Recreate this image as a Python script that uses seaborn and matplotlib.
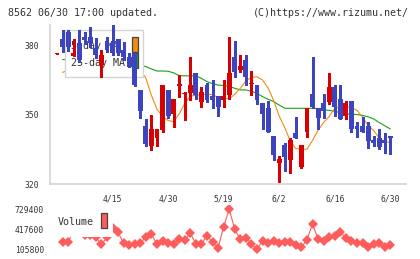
import numpy as np
import pandas as pd
import matplotlib
matplotlib.use("Agg")
import matplotlib.pyplot as plt
from matplotlib.patches import Rectangle
import seaborn as sns

# daily candles, 61 sessions ending 6/30
opens = [376.6, 383.0, 386.2, 375.8, 381.2, 383.8, 383.8, 379.0, 371.7, 382.2,
         381.2, 383.0, 378.3, 375.1, 376.8, 360.9, 345.2, 336.7, 339.9, 343.5,
         360.9, 350.4, 362.8, 359.0, 359.4, 368.1, 355.8, 363.0, 358.4, 358.4,
         356.5, 358.7, 375.1, 369.6, 373.9, 363.6, 363.0, 355.1, 353.2, 340.9,
         329.0, 337.0, 330.4, 342.3, 327.5, 342.8, 359.1, 352.9, 355.1, 355.8,
         362.0, 357.0, 349.7, 356.1, 345.2, 345.2, 345.2, 339.1, 339.9, 339.1,
         340.9]
highs = [377.0, 387.0, 387.0, 383.0, 387.0, 386.0, 388.4, 383.3, 378.3, 384.1,
         389.1, 383.0, 381.9, 376.8, 376.8, 360.9, 348.3, 350.0, 343.9, 363.0,
         360.9, 357.0, 367.4, 360.1, 375.4, 368.1, 362.3, 363.8, 365.2, 358.4,
         365.2, 384.1, 382.3, 376.1, 376.1, 369.1, 363.0, 355.1, 356.1, 340.9,
         332.2, 337.7, 339.9, 349.3, 337.0, 352.9, 375.4, 352.9, 359.1, 368.4,
         363.0, 363.0, 356.1, 356.1, 347.1, 349.3, 347.1, 340.9, 343.9, 342.3,
         340.9]
lows = [376.5, 377.5, 377.8, 375.8, 373.2, 381.0, 379.7, 374.6, 366.7, 377.5,
        376.1, 376.1, 374.0, 371.0, 362.8, 348.8, 336.7, 334.8, 336.7, 342.8,
        348.6, 344.9, 358.0, 347.8, 356.5, 357.0, 353.6, 355.8, 352.9, 349.7,
        353.6, 357.0, 366.7, 368.8, 363.0, 358.7, 354.8, 343.8, 342.8, 330.4,
        320.7, 325.8, 324.9, 339.9, 326.8, 340.6, 352.9, 343.8, 348.8, 354.8,
        349.7, 348.1, 348.1, 342.8, 340.6, 342.8, 335.8, 336.7, 335.1, 333.6,
        332.9]
closes = [376.8, 379.7, 379.7, 377.0, 373.9, 382.6, 381.2, 376.1, 376.1, 378.3,
          376.8, 376.8, 375.1, 371.0, 363.0, 351.9, 337.4, 343.9, 343.9, 363.0,
          349.7, 357.0, 363.1, 359.4, 363.0, 358.7, 359.9, 356.5, 356.5, 353.6,
          358.4, 368.4, 368.8, 371.4, 366.7, 363.9, 356.5, 350.4, 342.8, 332.6,
          330.9, 331.9, 339.1, 339.9, 337.0, 352.9, 353.6, 348.8, 351.9, 362.0,
          353.6, 348.1, 355.1, 343.8, 343.8, 342.8, 338.8, 337.7, 335.9, 337.7,
          339.9]

ma5 = [np.nan, 368.5, 369.5, 371.5, 374.0, 377.5, 379.0, 379.0, 379.5, 378.5,
       378.0, 378.0, 377.0, 375.5, 372.5, 369.5, 366.0, 358.5, 352.5, 349.3,
       347.6, 347.1, 350.5, 355.0, 358.2, 358.6, 358.8, 359.0, 358.8, 357.6,
       357.2, 357.0, 359.0, 361.6, 364.8, 366.3, 366.6, 365.2, 361.7, 356.3,
       349.5, 344.5, 338.6, 335.4, 335.1, 335.1, 339.0, 343.3, 346.8, 349.3,
       353.0, 353.6, 353.6, 353.2, 352.0, 349.0, 345.4, 343.2, 340.0, 338.3,
       338.1]
ma25 = [np.nan, 374.1, 374.0, 373.9, 373.8, 373.8, 373.7, 373.6, 373.4, 373.3,
        373.2, 373.0, 372.8, 372.6, 372.2, 371.6, 371.0, 370.0, 369.1, 369.1,
        369.0, 368.3, 367.1, 367.0, 367.0, 367.0, 365.9, 364.5, 363.6, 363.0,
        362.8, 362.4, 361.6, 360.9, 360.9, 360.3, 359.4, 358.0, 356.8, 355.8,
        354.3, 352.9, 352.9, 352.9, 352.9, 352.9, 352.9, 352.7, 352.2, 352.0,
        351.6, 351.0, 350.5, 350.3, 350.2, 349.8, 349.2, 348.3, 346.7, 345.3,
        343.9]

volume = [np.nan, 211000, 211000, 404000, 373000, 320000, 320000, 290000, 180000, 290000,
          436000, 368000, 195000, 168600, 184300, 195000, 299000, 336500, 179600, 231500,
          204800, 184300, 258200, 247200, 352400, 184300, 184300, 314700, 211000, 126200,
          456100, 729400, 415200, 258200, 283300, 184300, 101000, 236000, 195000, 236000,
          195000, 220500, 215300, 163900, 132500, 252900, 498500, 258200, 231500, 289600,
          314700, 368000, 283300, 231500, 195000, 195000, 132500, 179600, 195000, 132500,
          168600]

date_ticks = [10, 20, 30, 40, 50, 60]
date_labels = ["4/15", "4/30", "5/19", "6/2", "6/16", "6/30"]
price_ticks = [320, 350, 380]
vol_ticks = [105800, 417600, 729400]

df = pd.DataFrame({"open": opens, "high": highs, "low": lows, "close": closes,
                   "ma5": ma5, "ma25": ma25, "volume": volume})
df["i"] = np.arange(len(df))

UP = "#d80000"
DOWN = "#3c44c0"
ORANGE = "#f08c10"
GREEN = "#18a018"
VOLC = "#ff5c5c"
GRID = "#d4d4d4"
TXT = "#333333"

sns.set_style("white")
plt.rcParams["font.family"] = ["DejaVu Sans Mono", "DejaVu Sans"]

fig = plt.figure(figsize=(4.2, 2.59), dpi=100)
W, H = 420, 259
ax = fig.add_axes([50 / W, (H - 184) / H, 355.7 / W, 159 / H])
vax = fig.add_axes([50 / W, (H - 253) / H, 355.7 / W, 48 / H])

# moving averages (under the legend box)
sns.lineplot(data=df, x="i", y="ma25", ax=ax, color=GREEN, lw=0.8, zorder=1)
sns.lineplot(data=df, x="i", y="ma5", ax=ax, color=ORANGE, lw=0.8, zorder=1)

# legend box: sits above the MA lines but under the candles
ax.add_patch(Rectangle((0.042, 0.671), 0.220, 0.298, transform=ax.transAxes,
                       facecolor="white", edgecolor=GRID, lw=1.0, zorder=2))
ax.text(0.059, 0.868, "5-day MA", transform=ax.transAxes, fontsize=7.2,
        color=TXT, va="center", ha="left", zorder=2.5)
ax.text(0.059, 0.759, "25-day MA", transform=ax.transAxes, fontsize=7.2,
        color=TXT, va="center", ha="left", zorder=2.5)
ax.add_patch(Rectangle((0.2305, 0.830), 0.016, 0.0945, transform=ax.transAxes,
                       facecolor=ORANGE, edgecolor="#444444", lw=0.9, zorder=2.6))
ax.add_patch(Rectangle((0.2305, 0.730), 0.016, 0.0945, transform=ax.transAxes,
                       facecolor=GREEN, edgecolor="#444444", lw=0.9, zorder=2.6))

# candles
up = df["close"] >= df["open"]
colors = np.where(up, UP, DOWN)
body_lo = df[["open", "close"]].min(axis=1)
body_h = (df["close"] - df["open"]).abs().clip(lower=0.45)
ax.vlines(df["i"], df["low"], df["high"], colors=colors, lw=1.0, zorder=3,
          antialiased=False)
ax.bar(df["i"], body_h, bottom=body_lo, width=0.88, color=colors, lw=0, zorder=3,
       antialiased=False)

ax.set_xlim(-1.26, 62.77)
ax.set_ylim(320, 389.1)
ax.set_xlabel("")
ax.set_ylabel("")
ax.set_yticks(price_ticks)
ax.set_yticklabels([str(t) for t in price_ticks], fontsize=5.8, color=TXT)
ax.set_xticks(date_ticks)
ax.set_xticklabels(date_labels, fontsize=5.8, color=TXT)
ax.set_xticks(np.linspace(-1.26, 62.77, 12), minor=True)
ax.tick_params(axis="x", which="major", length=0, pad=7.5)
ax.tick_params(axis="x", which="minor", direction="inout", length=6, width=1, color=GRID)
ax.tick_params(axis="y", direction="inout", length=7, width=1, color=GRID, pad=4)
for s in ["top", "right"]:
    ax.spines[s].set_visible(False)
for s in ["left", "bottom"]:
    ax.spines[s].set_color(GRID)
    ax.spines[s].set_linewidth(1.2)

# volume panel
sns.lineplot(data=df, x="i", y="volume", ax=vax, color=VOLC, lw=0.8,
             marker="D", markersize=4.8, markeredgewidth=0, zorder=1)
vax.add_patch(Rectangle((0.017, 0.34), 0.16, 0.66, transform=vax.transAxes,
                        facecolor="white", edgecolor="none", zorder=2))
vax.text(0.023, 0.652, "Volume", transform=vax.transAxes, fontsize=7.2,
         color=TXT, va="center", ha="left", zorder=3)
vax.add_patch(Rectangle((0.144, 0.515), 0.017, 0.313, transform=vax.transAxes,
                        facecolor=VOLC, edgecolor="#444444", lw=0.9, zorder=3))
vax.set_xlim(-1.26, 62.77)
vax.set_ylim(43000, 797000)
vax.set_xlabel("")
vax.set_ylabel("")
vax.set_xticks([])
vax.set_yticks(vol_ticks)
vax.set_yticklabels([str(t) for t in vol_ticks], fontsize=5.8, color=TXT)
vax.tick_params(axis="y", length=0, pad=4.2)
for s in vax.spines.values():
    s.set_visible(False)

fig.text(8 / W, (H - 12.5) / H, "8562 06/30 17:00 updated.", fontsize=7.2,
         color=TXT, va="center", ha="left")
fig.text(409 / W, (H - 12.5) / H, "(C)https://www.rizumu.net/", fontsize=7.2,
         color=TXT, va="center", ha="right")

fig.savefig("out.png", dpi=100, facecolor="white")
